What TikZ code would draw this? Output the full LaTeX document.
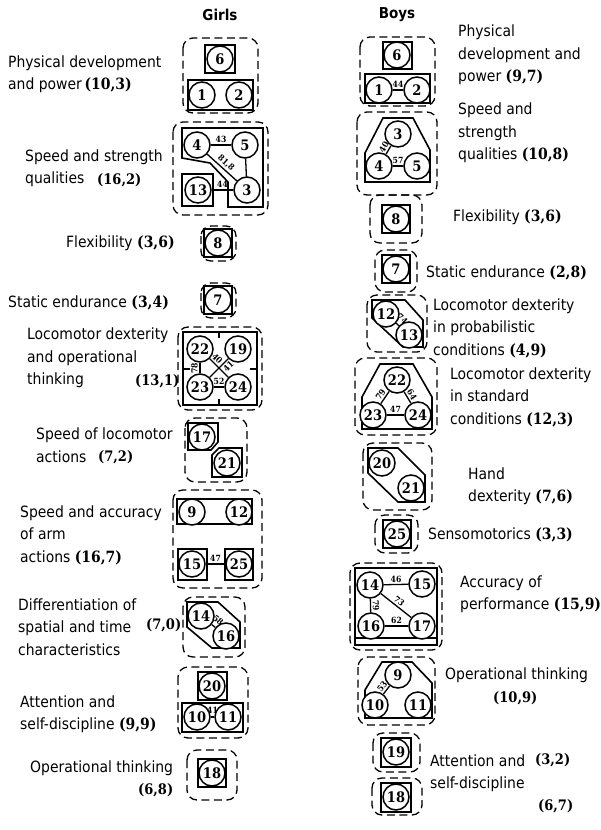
\documentclass[tikz,border=0pt]{standalone}
\usepackage{fontspec}
\setmainfont{DejaVu Sans Condensed}
\newfontfamily\numfont{DejaVu Serif Condensed}
\usetikzlibrary{positioning}
\newcommand{\nm}[1]{{\numfont\bfseries #1}}

\tikzset{
  elem/.style={circle, draw, fill=white, line width=1.5pt, minimum size=26pt, inner sep=0pt,
    font=\numfont\bfseries\fontsize{14.5}{14.5}\selectfont},
  grp/.style={draw, line width=1.3pt, dash pattern=on 8pt off 4.5pt, rounded corners=10pt},
  frm/.style={draw, line width=1.6pt},
  lnk/.style={line width=1.3pt},
  wt/.style={font=\numfont\bfseries\fontsize{8.5}{8.5}\selectfont, inner sep=0.5pt},
  lbl/.style={anchor=west, align=left, inner sep=0pt, font=\fontsize{15.5}{22.5}\selectfont},
  num/.style={anchor=west, inner sep=0pt, font=\numfont\bfseries\fontsize{14.5}{14.5}\selectfont},
  head/.style={font=\bfseries\fontsize{15}{15}\selectfont}
}

\begin{document}
\begin{tikzpicture}[x=1pt, y=-1pt]
  \useasboundingbox (0,0) rectangle (600,830);
  \node[head] (hg) at (220,15) {Girls};
  \node[head] (hb) at (397,15) {Boys};

  % girls
  \draw[grp] (183,38) rectangle (258,113);
  \draw[frm] (205,45) rectangle (235,73);
  \draw[frm] (188,80) rectangle (253,110);
  \node[elem] (g6) at (220,59) {6};
  \node[elem] (g1) at (202,95) {1};
  \node[elem] (g2) at (239,95) {2};

  \draw[grp] (173,122) rectangle (268,215);
  \draw[frm] (182,128) -- (263,128) -- (263,207) -- (228,207) -- (228,182) -- (210,163) -- (182,158) -- cycle;
  \draw[frm] (182,174) rectangle (213,206);
  \node[elem] (g4) at (197,145) {4};
  \node[elem] (g5) at (245,145) {5};
  \node[elem] (g13) at (198,190) {13};
  \node[elem] (g3) at (247,190) {3};
  \draw[lnk] (g4) -- node[wt,above=1pt]{43} (g5);
  \draw[lnk] (g5) -- (g3);
  \draw[lnk] (g13) -- node[wt,above=1pt]{44} (g3);
  \draw[lnk] (g4) -- node[wt,above=1pt,sloped]{81,8} (g3);

  \draw[grp] (201,226) rectangle (236,261);
  \draw[frm] (204,229) rectangle (232,257);
  \node[elem] (g8) at (218,243) {8};

  \draw[grp] (201,283) rectangle (236,318);
  \draw[frm] (204,286) rectangle (232,314);
  \node[elem] (g7) at (218,300) {7};

  \draw[grp] (178,327) rectangle (262,410);
  \draw[frm] (183,332) rectangle (257,405);
  \draw[frm] (183,369) -- (190,369) (250,369) -- (257,369)
    (219,332) -- (219,338) (219,399) -- (219,405);
  \node[elem] (g22) at (200,349) {22};
  \node[elem] (g19) at (238,349) {19};
  \node[elem] (g23) at (200,387) {23};
  \node[elem] (g24) at (238,387) {24};
  \draw[lnk] (g22) -- node[wt,above=1pt,sloped,pos=0.2]{40} (g24);
  \draw[lnk] (g23) -- node[wt,below=1pt,sloped,pos=0.8]{41} (g19);
  \draw[lnk] (g23) -- node[wt,above=1pt,sloped]{78} (g22);
  \draw[lnk] (g23) -- node[wt,above=1pt]{52} (g24);

  \draw[grp] (185,418) rectangle (247,482);
  \draw[frm] (188,423) -- (218,423) -- (218,442) -- (211,450) -- (188,450) -- cycle;
  \draw[frm] (219,448) -- (242,448) -- (242,477) -- (212,477) -- (212,455) -- cycle;
  \node[elem] (g17) at (202,437) {17};
  \node[elem] (g21) at (227,463) {21};

  \draw[grp] (173,490) rectangle (262,588);
  \draw[frm] (177,499) rectangle (252,524);
  \draw[frm] (178,549) rectangle (207,580);
  \draw[frm] (225,549) rectangle (253,580);
  \node[elem] (g9) at (192,512) {9};
  \node[elem] (g12) at (239,512) {12};
  \node[elem] (g15) at (192,564) {15};
  \node[elem] (g25) at (239,564) {25};
  \draw[lnk] (g15) -- node[wt,above=1pt]{47} (g25);

  \draw[grp] (183,597) rectangle (245,657);
  \draw[frm] (187,602) -- (218,602) -- (240,622) -- (240,648) -- (212,648) -- (187,627) -- cycle;
  \node[elem] (g14) at (201,616) {14};
  \node[elem] (g16) at (226,636) {16};
  \draw[lnk] (g14) -- node[wt,above=3pt,sloped]{58} (g16);

  \draw[grp] (178,667) rectangle (248,738);
  \draw[frm] (198,672) rectangle (227,700);
  \draw[frm] (182,703) rectangle (243,732);
  \node[elem] (g20) at (212,686) {20};
  \node[elem] (g10) at (197,717) {10};
  \node[elem] (g11) at (228,717) {11};
  \draw[lnk] (g10) -- node[wt,above=2pt]{41} (g11);

  \draw[grp] (187,750) rectangle (237,800);
  \draw[frm] (198,759) rectangle (226,787);
  \node[elem] (g18) at (212,773) {18};

  % boys
  \draw[grp] (360,37) rectangle (435,106);
  \draw[frm] (383,42) rectangle (412,69);
  \draw[frm] (365,74) rectangle (430,103);
  \node[elem] (b6) at (397,55) {6};
  \node[elem] (b1) at (379,90) {1};
  \node[elem] (b2) at (417,90) {2};
  \draw[lnk] (b1) -- node[wt,above=1pt]{44} (b2);

  \draw[grp] (357,112) rectangle (437,195);
  \draw[frm] (383,118) -- (413,118) -- (430,150) -- (430,182) -- (365,182) -- (365,153) -- cycle;
  \node[elem] (b3) at (398,134) {3};
  \node[elem] (b4) at (379,166) {4};
  \node[elem] (b5) at (417,166) {5};
  \draw[lnk] (b4) -- node[wt,above=1pt,sloped]{40} (b3);
  \draw[lnk] (b4) -- node[wt,above=1pt]{57} (b5);

  \draw[grp] (370,195) rectangle (422,243);
  \draw[frm] (382,205) rectangle (410,233);
  \node[elem] (b8) at (396,219) {8};

  \draw[grp] (375,250) rectangle (417,292);
  \draw[frm] (382,255) rectangle (410,283);
  \node[elem] (b7) at (396,269) {7};

  \draw[grp] (367,295) rectangle (427,352);
  \draw[frm] (372,300) -- (405,300) -- (423,320) -- (423,347) -- (403,347) -- (372,318) -- cycle;
  \node[elem] (b12) at (386,314) {12};
  \node[elem] (b13) at (409,335) {13};
  \draw[lnk] (b12) -- node[wt,above=3pt,sloped]{74} (b13);

  \draw[grp] (355,358) rectangle (437,435);
  \draw[frm] (380,364) -- (413,364) -- (432,397) -- (432,429) -- (362,429) -- (362,397) -- cycle;
  \node[elem] (b22) at (397,380) {22};
  \node[elem] (b23) at (373,415) {23};
  \node[elem] (b24) at (418,415) {24};
  \draw[lnk] (b23) -- node[wt,above=1pt,sloped]{79} (b22);
  \draw[lnk] (b22) -- node[wt,above=1pt,sloped]{64} (b24);
  \draw[lnk] (b23) -- node[wt,above=1pt]{47} (b24);

  \draw[grp] (363,443) rectangle (432,510);
  \draw[frm] (368,448) -- (398,448) -- (425,475) -- (425,502) -- (398,502) -- (368,473) -- cycle;
  \node[elem] (b20) at (382,463) {20};
  \node[elem] (b21) at (411,488) {21};

  \draw[grp] (375,515) rectangle (418,553);
  \draw[frm] (383,520) rectangle (411,548);
  \node[elem] (b25) at (397,534) {25};

  \draw[grp] (350,563) rectangle (442,650);
  \draw[frm] (355,568) rectangle (437,645);
  \draw[frm] (355,638) -- (437,638);
  \node[elem] (b14) at (370,585) {14};
  \node[elem] (b15) at (422,584) {15};
  \node[elem] (b16) at (371,626) {16};
  \node[elem] (b17) at (422,626) {17};
  \draw[lnk] (b14) -- node[wt,above=1pt]{46} (b15);
  \draw[lnk] (b16) -- node[wt,above=1pt,sloped]{79} (b14);
  \draw[lnk] (b14) -- node[wt,above=1pt,sloped]{73} (b17);
  \draw[lnk] (b16) -- node[wt,above=1pt]{62} (b17);

  \draw[grp] (358,657) rectangle (435,725);
  \draw[frm] (382,662) -- (412,662) -- (432,683) -- (432,718) -- (365,718) -- (365,690) -- cycle;
  \node[elem] (b9) at (398,675) {9};
  \node[elem] (b10) at (375,705) {10};
  \node[elem] (b11) at (418,705) {11};
  \draw[lnk] (b10) -- node[wt,above=1pt,sloped]{53} (b9);

  \draw[grp] (373,733) rectangle (420,772);
  \draw[frm] (381,738) rectangle (411,767);
  \node[elem] (b19) at (396,752) {19};

  \draw[grp] (372,778) rectangle (422,815);
  \draw[frm] (381,783) rectangle (411,812);
  \node[elem] (b18) at (396,797) {18};

  % girls labels
  \node[lbl] (tg1) at (8,74) {Physical development\\and power\,\nm{(10,3)}};
  \node[lbl] (tg2) at (25,168) {Speed and strength\\qualities};
  \node[num] (ng2) at (97,180) {(16,2)};
  \node[lbl] (tg3) at (66,243) {Flexibility \nm{(3,6)}};
  \node[lbl] (tg4) at (8,303) {Static endurance \nm{(3,4)}};
  \node[lbl] (tg5) at (27,358) {Locomotor dexterity\\and operational\\thinking};
  \node[num] (ng5) at (135,381) {(13,1)};
  \node[lbl] (tg6) at (36,445) {Speed of locomotor\\actions};
  \node[num] (ng6) at (98,457) {(7,2)};
  \node[lbl] (tg7) at (20,535) {Speed and accuracy\\of arm\\actions \nm{(16,7)}};
  \node[lbl] (tg8) at (18,627) {Differentiation of\\spatial and time\\characteristics};
  \node[num] (ng8) at (146,625) {(7,0)};
  \node[lbl] (tg9) at (20,714) {Attention and\\self-discipline \nm{(9,9)}};
  \node[lbl] (tg10) at (30,768) {Operational thinking};
  \node[num] (ng10) at (138,790) {(6,8)};

  % boys labels
  \node[lbl] (tb1) at (458,55) {Physical\\development and\\power \nm{(9,7)}};
  \node[lbl] (tb2) at (458,133) {Speed and\\strength\\qualities \nm{(10,8)}};
  \node[lbl] (tb3) at (453,217) {Flexibility \nm{(3,6)}};
  \node[lbl] (tb4) at (426,273) {Static endurance \nm{(2,8)}};
  \node[lbl] (tb5) at (433,328) {Locomotor dexterity\\in probabilistic\\conditions \nm{(4,9)}};
  \node[lbl] (tb6) at (450,397) {Locomotor dexterity\\in standard\\conditions \nm{(12,3)}};
  \node[lbl] (tb7) at (468,486) {Hand\\dexterity \nm{(7,6)}};
  \node[lbl] (tb8) at (428,535) {Sensomotorics \nm{(3,3)}};
  \node[lbl] (tb9) at (460,594) {Accuracy of\\performance \nm{(15,9)}};
  \node[lbl] (tb10) at (445,675) {Operational thinking};
  \node[num] (nb10) at (493,698) {(10,9)};
  \node[lbl] (tb11) at (430,773) {Attention and\\self-discipline};
  \node[num] (nb11) at (535,760) {(3,2)};
  \node[num] (nb12) at (538,806) {(6,7)};
\end{tikzpicture}
\end{document}
